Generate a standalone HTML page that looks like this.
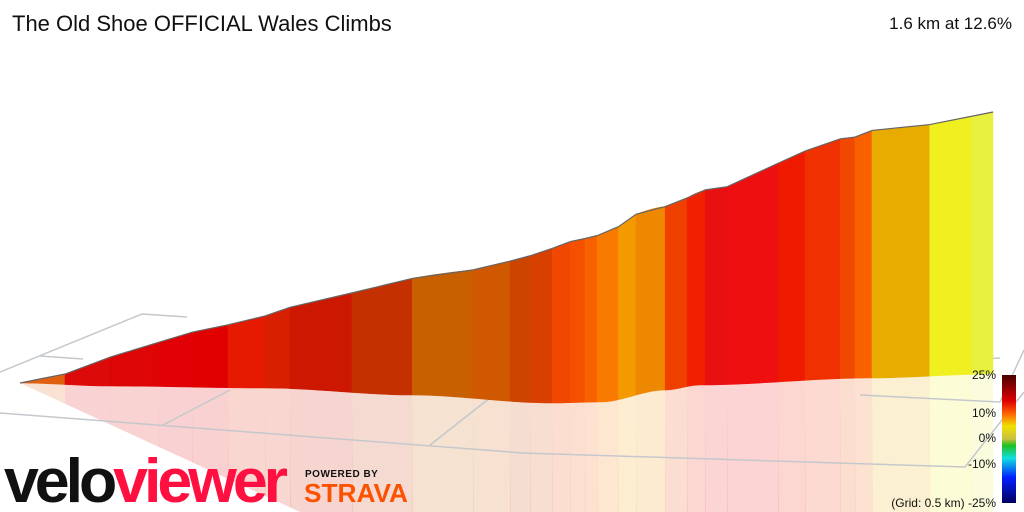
<!DOCTYPE html>
<html><head><meta charset="utf-8"><style>
body{margin:0;background:#fff;width:1024px;height:512px;overflow:hidden;font-family:"Liberation Sans",sans-serif}
svg{position:absolute;left:0;top:0}
</style></head><body>
<svg id="c" width="1024" height="512">
<defs>
<clipPath id="rc"><polygon points="20,383 300,512 1024,512 1024,370 20,370"/></clipPath>
<linearGradient id="lg" x1="0" y1="0" x2="0" y2="1">
<stop offset="0" stop-color="#4a0000"/><stop offset="0.2" stop-color="#dd0000"/><stop offset="0.3" stop-color="#ff6000"/><stop offset="0.4" stop-color="#f0e000"/><stop offset="0.5" stop-color="#c8c040"/><stop offset="0.55" stop-color="#20c020"/><stop offset="0.65" stop-color="#10e0e0"/><stop offset="0.8" stop-color="#0020ff"/><stop offset="1" stop-color="#000060"/></linearGradient></defs>
<g id="refl" clip-path="url(#rc)"></g>
<g id="grid" stroke="#c4c8cc" stroke-width="1.5" fill="none">
<polyline points="0,372 142,314 187,317"/>
<polyline points="40,356 83,359"/>
<polyline points="0,413 523,453 965,467 1024,392"/>
<polyline points="163,425 230,390"/>
<polyline points="430,445 500,390"/>
<polyline points="860,395 1000,402 1024,350"/>
<polyline points="965,360 1000,358"/>
</g>
<g id="wall"></g>
<text x="12" y="31" font-size="22" fill="#111">The Old Shoe OFFICIAL Wales Climbs</text>
<text x="1012" y="29" font-size="17" fill="#111" text-anchor="end">1.6 km at 12.6%</text>
<rect x="1002" y="375" width="14" height="128" fill="url(#lg)"/>
<g font-size="12" fill="#111" text-anchor="end">
<text x="996" y="379">25%</text><text x="996" y="417">10%</text><text x="996" y="442">0%</text><text x="996" y="468">-10%</text><text x="996" y="507">(Grid: 0.5 km) -25%</text>
</g>
<text x="4" y="502" font-size="62" font-weight="bold" letter-spacing="-4" textLength="280" lengthAdjust="spacingAndGlyphs"><tspan fill="#111">velo</tspan><tspan fill="#ff1040">viewer</tspan></text>
<text x="305" y="477" font-size="10" font-weight="bold" fill="#111" letter-spacing="0.5">POWERED BY</text>
<text x="304" y="502" font-size="26" font-weight="bold" fill="#fc5200" textLength="104" lengthAdjust="spacingAndGlyphs">STRAVA</text>
</svg>
<script>
// distance (km) of segment boundaries, elevation gain (m) at each boundary, segment colours
const distances=[0,0.074,0.148,0.23,0.284,0.342,0.403,0.444,0.546,0.645,0.745,0.806,0.839,0.875,0.905,0.929,0.949,0.984,1.013,1.061,1.097,1.127,1.163,1.247,1.291,1.349,1.373,1.401,1.496,1.565,1.6];
const elevations=[0,8,22,34,42,48,55,62,76,89,98,107,112,118,123,125,127,132,138,140,144,149,151,167,175,183,184,189,192,197,200];
const colors=["#e06010","#dd0a0a","#dd0505","#e00005","#e00000","#e51a00","#d82000","#cc1800","#c43000","#c86000","#d05800","#cc4400","#d84000","#f04800","#f55000","#f86000","#f87a00","#f29a00","#ee8800","#f04000","#f02000","#e81010","#ee1010","#f01a00","#f03000","#f04800","#f86000","#e8ac00","#f0f020","#e8f040"];
const total=1.6;
function xs(d){return 20+d/total*973;}
const gx=[20,110,265,412,552,600,665,700,870,993],gy=[383,386,388,395,403,402,390,385,378,374];
function base(x){for(let i=0;i<gx.length-1;i++){if(x<=gx[i+1]){const t=(x-gx[i])/(gx[i+1]-gx[i]);const s=t*t*(3-2*t);return gy[i]+(gy[i+1]-gy[i])*s;}}return gy[gy.length-1];}
function ys(x,e){return base(x)-e*1.31;}
const NS="http://www.w3.org/2000/svg";
const wall=document.getElementById('wall'),refl=document.getElementById('refl');
function poly(pts,fill,parent,op){const p=document.createElementNS(NS,'polygon');p.setAttribute('points',pts.map(a=>a.join(',')).join(' '));p.setAttribute('fill',fill);if(op)p.setAttribute('fill-opacity',op);parent.appendChild(p);return p;}
let topPts=[];
for(let i=0;i<colors.length;i++){
 const x0=xs(distances[i]),x1=xs(distances[i+1]);
 const pts=[];const N=6;
 for(let k=0;k<=N;k++){const x=x0+(x1-x0)*k/N;pts.push([x,ys(x,elevations[i]+(elevations[i+1]-elevations[i])*k/N)]);}
 for(let k=N;k>=0;k--){const x=x0+(x1-x0)*k/N;pts.push([x,base(x)]);}
 const p=poly(pts,colors[i],wall);
 
 
 p.setAttribute('stroke',colors[i]);p.setAttribute('stroke-width','0.6');
 const rb=[];for(let k=0;k<=N;k++){const x=x0+(x1-x0)*k/N;rb.push([x,base(x)]);}
 const r=poly(rb.concat([[x1+0.5,512],[x0,512]]),colors[i],refl,0.18);
 
 
 topPts.push([x0,ys(x0,elevations[i])]);
}
topPts.push([xs(total),ys(xs(total),elevations[elevations.length-1])]);
const ol=document.createElementNS(NS,'polyline');
ol.setAttribute('points',topPts.map(a=>a.join(',')).join(' '));
ol.setAttribute('fill','none');ol.setAttribute('stroke','#666');ol.setAttribute('stroke-width','1.2');


wall.appendChild(ol);
</script>
</body></html>
